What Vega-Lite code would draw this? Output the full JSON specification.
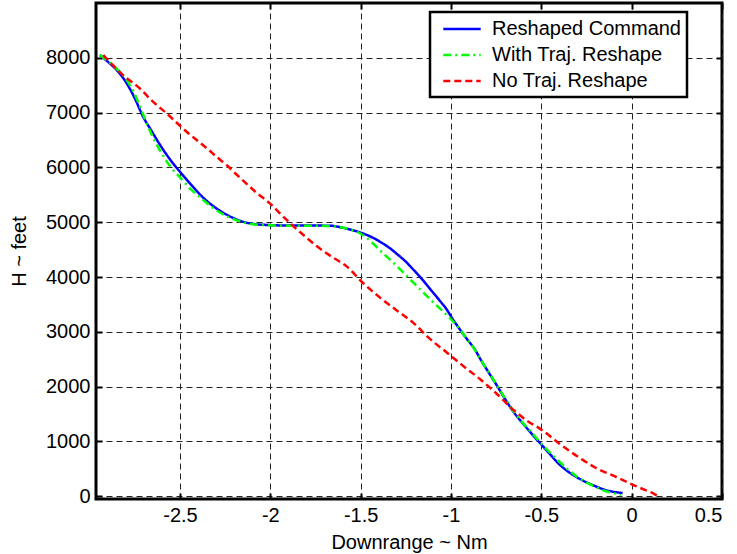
{
  "$schema": "https://vega.github.io/schema/vega-lite/v6.json",
  "width": 626,
  "height": 496,
  "autosize": {"type": "none"},
  "padding": {"left": 96, "top": 3, "right": 15, "bottom": 55},
  "background": "white",
  "config": {
    "view": {"stroke": "black", "strokeWidth": 3},
    "font": "Liberation Sans",
    "axis": {
      "labelFont": "Liberation Sans",
      "titleFont": "Liberation Sans",
      "labelFontSize": 20,
      "titleFontSize": 20,
      "titleFontWeight": "normal",
      "labelColor": "black",
      "titleColor": "black",
      "domain": false,
      "gridColor": "#222222",
      "gridDash": [6, 4],
      "gridWidth": 1,
      "gridOpacity": 1,
      "tickColor": "black",
      "tickWidth": 2
    },
    "legend": {
      "labelFont": "Liberation Sans",
      "labelFontSize": 20,
      "labelColor": "black",
      "labelLimit": 400,
      "strokeColor": "black",
      "strokeWidth": 2.5,
      "fillColor": "white",
      "padding": 6,
      "symbolOffset": 15,
      "labelOffset": 19,
      "rowPadding": 5,
      "symbolType": "M-2,0H2",
      "symbolSize": 350,
      "symbolStrokeWidth": 2.5
    }
  },
  "datasets": {
    "curves": [
      {"series": "Reshaped Command", "x": -2.943, "h": 8050},
      {"series": "Reshaped Command", "x": -2.90, "h": 7930},
      {"series": "Reshaped Command", "x": -2.85, "h": 7775},
      {"series": "Reshaped Command", "x": -2.80, "h": 7560},
      {"series": "Reshaped Command", "x": -2.75, "h": 7260},
      {"series": "Reshaped Command", "x": -2.705, "h": 6930},
      {"series": "Reshaped Command", "x": -2.66, "h": 6680},
      {"series": "Reshaped Command", "x": -2.62, "h": 6460},
      {"series": "Reshaped Command", "x": -2.58, "h": 6260},
      {"series": "Reshaped Command", "x": -2.54, "h": 6080},
      {"series": "Reshaped Command", "x": -2.50, "h": 5920},
      {"series": "Reshaped Command", "x": -2.44, "h": 5690},
      {"series": "Reshaped Command", "x": -2.372, "h": 5450},
      {"series": "Reshaped Command", "x": -2.31, "h": 5280},
      {"series": "Reshaped Command", "x": -2.262, "h": 5175},
      {"series": "Reshaped Command", "x": -2.20, "h": 5070},
      {"series": "Reshaped Command", "x": -2.13, "h": 4990},
      {"series": "Reshaped Command", "x": -2.07, "h": 4960},
      {"series": "Reshaped Command", "x": -2.018, "h": 4950},
      {"series": "Reshaped Command", "x": -1.90, "h": 4940},
      {"series": "Reshaped Command", "x": -1.80, "h": 4940},
      {"series": "Reshaped Command", "x": -1.669, "h": 4936},
      {"series": "Reshaped Command", "x": -1.60, "h": 4900},
      {"series": "Reshaped Command", "x": -1.519, "h": 4830},
      {"series": "Reshaped Command", "x": -1.45, "h": 4745},
      {"series": "Reshaped Command", "x": -1.391, "h": 4640},
      {"series": "Reshaped Command", "x": -1.34, "h": 4530},
      {"series": "Reshaped Command", "x": -1.299, "h": 4420},
      {"series": "Reshaped Command", "x": -1.25, "h": 4280},
      {"series": "Reshaped Command", "x": -1.207, "h": 4130},
      {"series": "Reshaped Command", "x": -1.16, "h": 3960},
      {"series": "Reshaped Command", "x": -1.114, "h": 3775},
      {"series": "Reshaped Command", "x": -1.06, "h": 3560},
      {"series": "Reshaped Command", "x": -1.022, "h": 3400},
      {"series": "Reshaped Command", "x": -0.994, "h": 3250},
      {"series": "Reshaped Command", "x": -0.95, "h": 3040},
      {"series": "Reshaped Command", "x": -0.911, "h": 2865},
      {"series": "Reshaped Command", "x": -0.87, "h": 2690},
      {"series": "Reshaped Command", "x": -0.837, "h": 2500},
      {"series": "Reshaped Command", "x": -0.79, "h": 2250},
      {"series": "Reshaped Command", "x": -0.745, "h": 2015},
      {"series": "Reshaped Command", "x": -0.70, "h": 1770},
      {"series": "Reshaped Command", "x": -0.652, "h": 1530},
      {"series": "Reshaped Command", "x": -0.60, "h": 1320},
      {"series": "Reshaped Command", "x": -0.56, "h": 1165},
      {"series": "Reshaped Command", "x": -0.495, "h": 925},
      {"series": "Reshaped Command", "x": -0.45, "h": 760},
      {"series": "Reshaped Command", "x": -0.412, "h": 620},
      {"series": "Reshaped Command", "x": -0.36, "h": 470},
      {"series": "Reshaped Command", "x": -0.32, "h": 380},
      {"series": "Reshaped Command", "x": -0.26, "h": 270},
      {"series": "Reshaped Command", "x": -0.209, "h": 195},
      {"series": "Reshaped Command", "x": -0.15, "h": 120},
      {"series": "Reshaped Command", "x": -0.098, "h": 80},
      {"series": "Reshaped Command", "x": -0.05, "h": 60},
      {"series": "With Traj. Reshape", "x": -2.943, "h": 8050},
      {"series": "With Traj. Reshape", "x": -2.90, "h": 7940},
      {"series": "With Traj. Reshape", "x": -2.85, "h": 7800},
      {"series": "With Traj. Reshape", "x": -2.80, "h": 7620},
      {"series": "With Traj. Reshape", "x": -2.76, "h": 7400},
      {"series": "With Traj. Reshape", "x": -2.72, "h": 7100},
      {"series": "With Traj. Reshape", "x": -2.69, "h": 6850},
      {"series": "With Traj. Reshape", "x": -2.65, "h": 6550},
      {"series": "With Traj. Reshape", "x": -2.60, "h": 6250},
      {"series": "With Traj. Reshape", "x": -2.55, "h": 6000},
      {"series": "With Traj. Reshape", "x": -2.50, "h": 5820},
      {"series": "With Traj. Reshape", "x": -2.44, "h": 5600},
      {"series": "With Traj. Reshape", "x": -2.38, "h": 5430},
      {"series": "With Traj. Reshape", "x": -2.30, "h": 5220},
      {"series": "With Traj. Reshape", "x": -2.22, "h": 5080},
      {"series": "With Traj. Reshape", "x": -2.14, "h": 4990},
      {"series": "With Traj. Reshape", "x": -2.05, "h": 4950},
      {"series": "With Traj. Reshape", "x": -1.90, "h": 4935},
      {"series": "With Traj. Reshape", "x": -1.75, "h": 4935},
      {"series": "With Traj. Reshape", "x": -1.65, "h": 4925},
      {"series": "With Traj. Reshape", "x": -1.57, "h": 4880},
      {"series": "With Traj. Reshape", "x": -1.50, "h": 4790},
      {"series": "With Traj. Reshape", "x": -1.44, "h": 4640},
      {"series": "With Traj. Reshape", "x": -1.391, "h": 4480},
      {"series": "With Traj. Reshape", "x": -1.30, "h": 4200},
      {"series": "With Traj. Reshape", "x": -1.207, "h": 3895},
      {"series": "With Traj. Reshape", "x": -1.114, "h": 3590},
      {"series": "With Traj. Reshape", "x": -1.05, "h": 3390},
      {"series": "With Traj. Reshape", "x": -1.00, "h": 3230},
      {"series": "With Traj. Reshape", "x": -0.95, "h": 3040},
      {"series": "With Traj. Reshape", "x": -0.911, "h": 2870},
      {"series": "With Traj. Reshape", "x": -0.87, "h": 2680},
      {"series": "With Traj. Reshape", "x": -0.837, "h": 2500},
      {"series": "With Traj. Reshape", "x": -0.79, "h": 2260},
      {"series": "With Traj. Reshape", "x": -0.745, "h": 2020},
      {"series": "With Traj. Reshape", "x": -0.70, "h": 1780},
      {"series": "With Traj. Reshape", "x": -0.652, "h": 1540},
      {"series": "With Traj. Reshape", "x": -0.60, "h": 1330},
      {"series": "With Traj. Reshape", "x": -0.55, "h": 1150},
      {"series": "With Traj. Reshape", "x": -0.495, "h": 940},
      {"series": "With Traj. Reshape", "x": -0.45, "h": 790},
      {"series": "With Traj. Reshape", "x": -0.40, "h": 630},
      {"series": "With Traj. Reshape", "x": -0.35, "h": 480},
      {"series": "With Traj. Reshape", "x": -0.30, "h": 350},
      {"series": "With Traj. Reshape", "x": -0.25, "h": 250},
      {"series": "With Traj. Reshape", "x": -0.20, "h": 170},
      {"series": "With Traj. Reshape", "x": -0.15, "h": 100},
      {"series": "With Traj. Reshape", "x": -0.10, "h": 55},
      {"series": "With Traj. Reshape", "x": -0.06, "h": 20},
      {"series": "No Traj. Reshape", "x": -2.925, "h": 8050},
      {"series": "No Traj. Reshape", "x": -2.87, "h": 7860},
      {"series": "No Traj. Reshape", "x": -2.814, "h": 7680},
      {"series": "No Traj. Reshape", "x": -2.722, "h": 7440},
      {"series": "No Traj. Reshape", "x": -2.65, "h": 7200},
      {"series": "No Traj. Reshape", "x": -2.574, "h": 6985},
      {"series": "No Traj. Reshape", "x": -2.50, "h": 6760},
      {"series": "No Traj. Reshape", "x": -2.463, "h": 6650},
      {"series": "No Traj. Reshape", "x": -2.40, "h": 6480},
      {"series": "No Traj. Reshape", "x": -2.352, "h": 6350},
      {"series": "No Traj. Reshape", "x": -2.30, "h": 6200},
      {"series": "No Traj. Reshape", "x": -2.241, "h": 6040},
      {"series": "No Traj. Reshape", "x": -2.19, "h": 5880},
      {"series": "No Traj. Reshape", "x": -2.131, "h": 5700},
      {"series": "No Traj. Reshape", "x": -2.07, "h": 5520},
      {"series": "No Traj. Reshape", "x": -2.001, "h": 5340},
      {"series": "No Traj. Reshape", "x": -1.94, "h": 5140},
      {"series": "No Traj. Reshape", "x": -1.872, "h": 4925},
      {"series": "No Traj. Reshape", "x": -1.80, "h": 4720},
      {"series": "No Traj. Reshape", "x": -1.742, "h": 4560},
      {"series": "No Traj. Reshape", "x": -1.66, "h": 4370},
      {"series": "No Traj. Reshape", "x": -1.576, "h": 4190},
      {"series": "No Traj. Reshape", "x": -1.49, "h": 3900},
      {"series": "No Traj. Reshape", "x": -1.391, "h": 3620},
      {"series": "No Traj. Reshape", "x": -1.30, "h": 3390},
      {"series": "No Traj. Reshape", "x": -1.207, "h": 3160},
      {"series": "No Traj. Reshape", "x": -1.12, "h": 2880},
      {"series": "No Traj. Reshape", "x": -1.022, "h": 2620},
      {"series": "No Traj. Reshape", "x": -0.93, "h": 2370},
      {"series": "No Traj. Reshape", "x": -0.837, "h": 2130},
      {"series": "No Traj. Reshape", "x": -0.75, "h": 1880},
      {"series": "No Traj. Reshape", "x": -0.652, "h": 1570},
      {"series": "No Traj. Reshape", "x": -0.58, "h": 1380},
      {"series": "No Traj. Reshape", "x": -0.504, "h": 1225},
      {"series": "No Traj. Reshape", "x": -0.40, "h": 960},
      {"series": "No Traj. Reshape", "x": -0.283, "h": 690},
      {"series": "No Traj. Reshape", "x": -0.20, "h": 520},
      {"series": "No Traj. Reshape", "x": -0.098, "h": 370},
      {"series": "No Traj. Reshape", "x": 0.013, "h": 200},
      {"series": "No Traj. Reshape", "x": 0.07, "h": 120},
      {"series": "No Traj. Reshape", "x": 0.124, "h": 45},
      {"series": "No Traj. Reshape", "x": 0.14, "h": 15}
    ]
  },
  "data": {"name": "curves"},
  "layer": [
    {
      "mark": {"type": "line", "strokeWidth": 2.5, "clip": true, "interpolate": "monotone"},
      "encoding": {
        "x": {
          "field": "x", "type": "quantitative",
          "scale": {"domain": [-2.965, 0.5], "nice": false, "zero": false},
          "axis": {"orient": "bottom", "values": [-2.5, -2, -1.5, -1, -0.5, 0, 0.5], "labelExpr": "datum.value + ''", "title": "Downrange ~ Nm", "tickSize": -6, "labelPadding": 12.5, "titlePadding": 7, "grid": true}
        },
        "y": {
          "field": "h", "type": "quantitative",
          "scale": {"domain": [-50, 9000], "nice": false, "zero": false},
          "axis": {"orient": "left", "values": [0, 1000, 2000, 3000, 4000, 5000, 6000, 7000, 8000], "labelExpr": "datum.value + ''", "title": "H ~ feet", "tickSize": -6, "labelPadding": 12, "titlePadding": 16, "grid": true}
        },
        "color": {
          "field": "series", "type": "nominal",
          "scale": {"domain": ["Reshaped Command", "With Traj. Reshape", "No Traj. Reshape"], "range": ["#0000ff", "#00ff00", "#ff0000"]},
          "legend": {"title": null, "orient": "none", "legendX": 334, "legendY": 9, "labelExpr": "datum.label + '\u2003'"}
        },
        "strokeDash": {
          "field": "series", "type": "nominal",
          "scale": {"domain": ["Reshaped Command", "With Traj. Reshape", "No Traj. Reshape"], "range": [[1, 0], [8, 4, 2, 4], [7, 4]]},
          "legend": {"title": null, "orient": "none", "legendX": 334, "legendY": 9, "labelExpr": "datum.label + '\u2003'"}
        }
      }
    },
    {
      "mark": {"type": "line", "strokeOpacity": 0},
      "encoding": {
        "x": {"field": "x", "type": "quantitative", "axis": {"orient": "top", "values": [-2.5, -2, -1.5, -1, -0.5, 0, 0.5], "labels": false, "title": null, "tickSize": -6, "grid": false}},
        "y": {"field": "h", "type": "quantitative", "axis": {"orient": "right", "values": [0, 1000, 2000, 3000, 4000, 5000, 6000, 7000, 8000], "labels": false, "title": null, "tickSize": -6, "grid": false}},
        "detail": {"field": "series"}
      }
    }
  ],
  "resolve": {"axis": {"x": "independent", "y": "independent"}}
}
